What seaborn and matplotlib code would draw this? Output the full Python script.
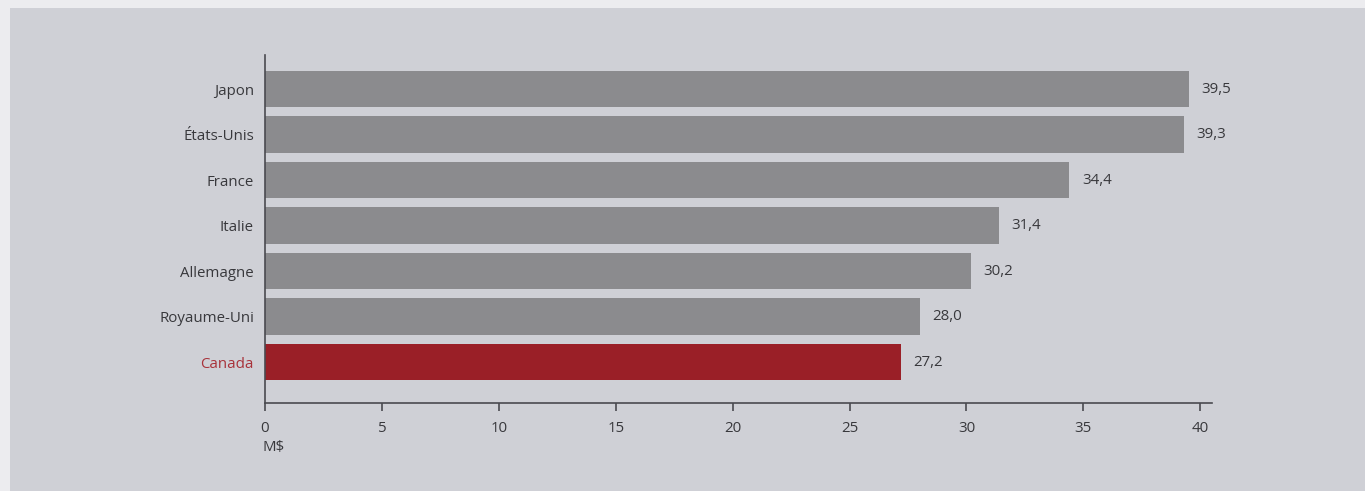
import matplotlib
matplotlib.use("Agg")
import matplotlib.pyplot as plt
import matplotlib.patches as mpatches
import seaborn as sns
import pandas as pd

countries = ["Japon", "États-Unis", "France", "Italie", "Allemagne", "Royaume-Uni", "Canada"]
values = [39.5, 39.3, 34.4, 31.4, 30.2, 28.0, 27.2]
value_labels = ["39,5", "39,3", "34,4", "31,4", "30,2", "28,0", "27,2"]
x_ticks = [0, 5, 10, 15, 20, 25, 30, 35, 40]
unit_label = "M$"

grey_bar = "#8b8b8e"
red_bar = "#9a1f27"
text_col = "#38383c"
red_text = "#a8323a"
panel_col = "#cfd0d6"
fs = 10.8

sns.set_theme(style="white")
plt.rcParams["font.family"] = ["Open Sans", "DejaVu Sans"]

df = pd.DataFrame({"pays": countries, "valeur": values})
palette = {c: (red_bar if c == "Canada" else grey_bar) for c in countries}

fig = plt.figure(figsize=(13.65, 4.91), dpi=100)
fig.patch.set_facecolor("#ececef")
fig.patches.append(mpatches.Rectangle((10 / 1365, 0), 1 - 10 / 1365, 1 - 8 / 491,
                                      transform=fig.transFigure, facecolor=panel_col,
                                      edgecolor="none", zorder=-5))

ax = fig.add_axes([265 / 1365, 88 / 491, 947 / 1365, 348 / 491])
ax.set_facecolor("none")
ax.set_zorder(2)

sns.barplot(data=df, x="valeur", y="pays", hue="pays", palette=palette, legend=False,
            width=0.8, saturation=1, linewidth=0, ax=ax, order=countries)

ax.set_xlim(0, 40.5)
ax.set_ylim(6.9, -0.75)
ax.set_xticks(x_ticks)
ax.set_xticklabels([str(t) for t in x_ticks])
ax.set_xlabel("")
ax.set_ylabel("")

for s in ["top", "right"]:
    ax.spines[s].set_visible(False)
for s in ["left", "bottom"]:
    ax.spines[s].set_color("#4a4a50")
    ax.spines[s].set_linewidth(1.2)

ax.tick_params(axis="x", direction="out", length=6, width=1.2, color="#4a4a50",
               labelsize=fs, labelcolor=text_col, pad=7, bottom=True)
ax.tick_params(axis="y", length=0, labelsize=fs, labelcolor=text_col, pad=8)

for lbl in ax.get_yticklabels():
    if lbl.get_text() == "Canada":
        lbl.set_color(red_text)

for i, (v, t) in enumerate(zip(values, value_labels)):
    ax.annotate(t, xy=(v, i), xytext=(9, 0), textcoords="offset points",
                va="center", ha="left", fontsize=fs, color=text_col)

fig.text(262 / 1365, 1 - 447 / 491, unit_label, ha="left", va="center",
         fontsize=fs, color=text_col)

fig.savefig("out.png", dpi=100, facecolor=fig.get_facecolor())
